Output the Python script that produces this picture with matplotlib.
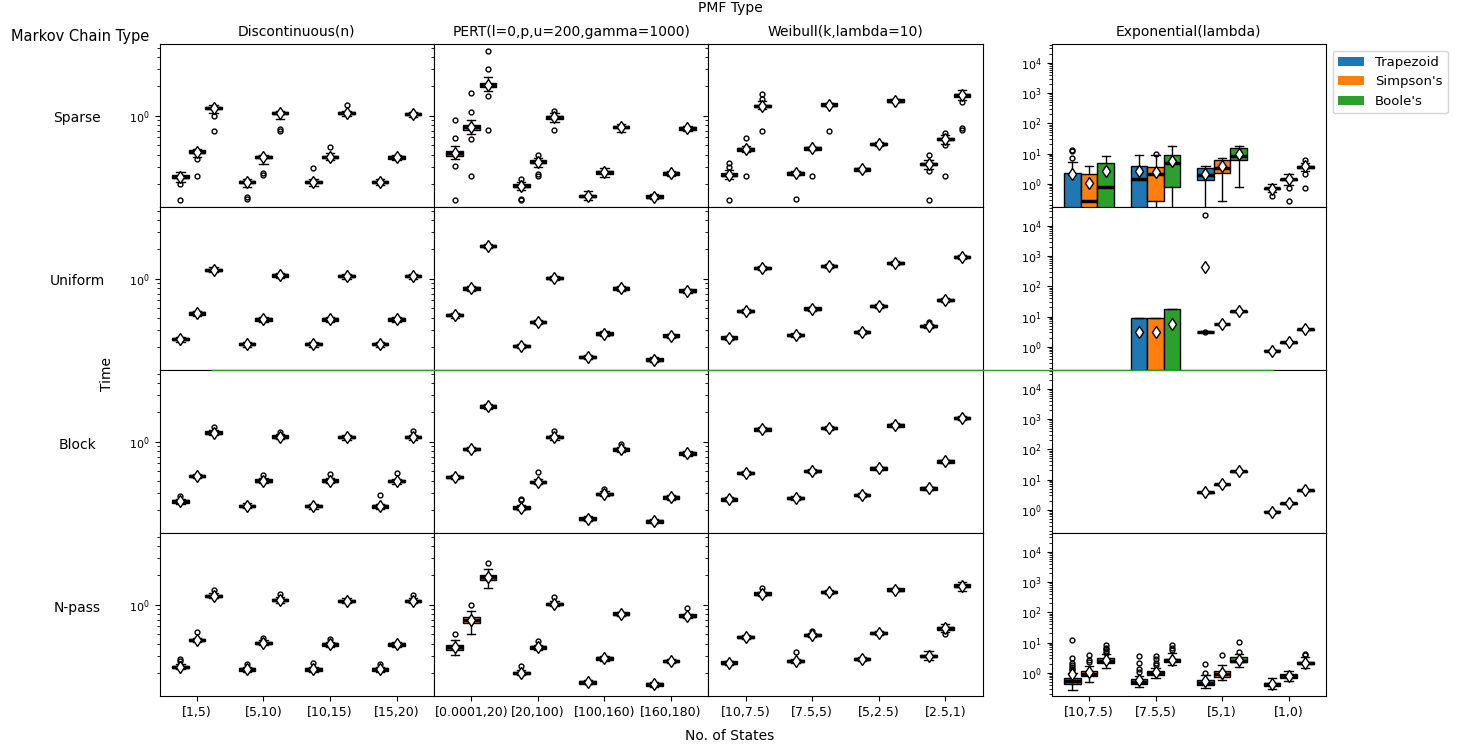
import matplotlib.pyplot as plt
from matplotlib.lines import Line2D
from matplotlib.patches import Patch

chain_types = ['Sparse', 'Uniform', 'Block', 'N-pass']
pmf_types = ['Discontinuous(n)', 'PERT(l=0,p,u=200,gamma=1000)',
             'Weibull(k,lambda=10)', 'Exponential(lambda)']
methods = ["Trapezoid", "Simpson's", "Boole's"]
colors = ['#1f77b4', '#ff7f0e', '#2ca02c']
state_bins = [['[1,5)', '[5,10)', '[10,15)', '[15,20)'],
              ['[0.0001,20)', '[20,100)', '[100,160)', '[160,180)'],
              ['[10,7.5)', '[7.5,5)', '[5,2.5)', '[2.5,1)'],
              ['[10,7.5)', '[7.5,5)', '[5,1)', '[1,0)']]

# box summaries: (whislo, q1, median, q3, whishi)
# 12 boxes per panel, bin by bin, each bin Trapezoid / Simpson's / Boole's
disc_sparse = [
    (0.21, 0.229, 0.236, 0.244, 0.262), (0.38, 0.415, 0.427, 0.44, 0.46), (1.07, 1.16, 1.2, 1.24, 1.3),
    (0.184, 0.204, 0.21, 0.216, 0.222), (0.318, 0.368, 0.379, 0.39, 0.40), (0.92, 1.03, 1.065, 1.09, 1.12),
    (0.19, 0.204, 0.21, 0.216, 0.225), (0.35, 0.368, 0.379, 0.39, 0.41), (1.0, 1.04, 1.065, 1.09, 1.12),
    (0.195, 0.204, 0.21, 0.216, 0.225), (0.35, 0.362, 0.373, 0.384, 0.395), (0.98, 1.01, 1.04, 1.07, 1.1)]
disc_sparse_out = {0: [0.198, 0.138], 1: [0.36, 0.24], 2: [1.0, 0.70], 3: [0.148, 0.139],
                   4: [0.26, 0.245], 5: [0.735, 0.70], 6: [0.292], 7: [0.476], 8: [1.3]}
disc_uniform = [
    (0.225, 0.233, 0.24, 0.247, 0.255), (0.415, 0.428, 0.44, 0.452, 0.465), (1.16, 1.2, 1.23, 1.26, 1.31),
    (0.2, 0.207, 0.213, 0.219, 0.226), (0.36, 0.371, 0.382, 0.393, 0.405), (1.02, 1.05, 1.08, 1.11, 1.14),
    (0.2, 0.207, 0.213, 0.219, 0.226), (0.36, 0.371, 0.382, 0.393, 0.405), (1.0, 1.035, 1.065, 1.095, 1.13),
    (0.2, 0.207, 0.213, 0.219, 0.226), (0.36, 0.371, 0.382, 0.393, 0.405), (1.0, 1.035, 1.065, 1.095, 1.13)]
disc_uniform_out = {}
disc_block = [
    (0.23, 0.237, 0.244, 0.251, 0.26), (0.42, 0.431, 0.444, 0.457, 0.47), (1.17, 1.2, 1.24, 1.28, 1.33),
    (0.207, 0.213, 0.22, 0.227, 0.233), (0.375, 0.386, 0.398, 0.41, 0.42), (1.06, 1.09, 1.125, 1.16, 1.19),
    (0.206, 0.212, 0.219, 0.226, 0.232), (0.375, 0.386, 0.398, 0.41, 0.42), (1.05, 1.08, 1.11, 1.14, 1.18),
    (0.205, 0.21, 0.217, 0.224, 0.23), (0.372, 0.383, 0.395, 0.407, 0.418), (1.05, 1.08, 1.11, 1.14, 1.18)]
disc_block_out = {0: [0.279], 2: [1.43], 4: [0.455], 5: [1.27], 7: [0.466],
                  9: [0.283], 10: [0.48], 11: [1.29]}
disc_npass = [
    (0.218, 0.224, 0.231, 0.238, 0.245), (0.41, 0.421, 0.434, 0.447, 0.46), (1.16, 1.19, 1.23, 1.27, 1.31),
    (0.205, 0.21, 0.217, 0.224, 0.23), (0.385, 0.395, 0.407, 0.419, 0.43), (1.05, 1.08, 1.117, 1.15, 1.19),
    (0.205, 0.21, 0.217, 0.224, 0.23), (0.37, 0.379, 0.391, 0.403, 0.415), (1.04, 1.07, 1.1, 1.13, 1.17),
    (0.205, 0.21, 0.217, 0.224, 0.23), (0.37, 0.379, 0.391, 0.403, 0.415), (1.03, 1.06, 1.09, 1.12, 1.16)]
disc_npass_out = {0: [0.265, 0.277], 1: [0.52], 2: [1.42], 3: [0.245], 4: [0.458], 5: [1.28],
                  6: [0.25], 7: [0.45], 9: [0.245], 11: [1.26]}

pert_sparse = [
    (0.36, 0.39, 0.41, 0.43, 0.488), (0.65, 0.72, 0.76, 0.80, 0.90), (1.8, 1.95, 2.05, 2.15, 2.48),
    (0.172, 0.185, 0.191, 0.197, 0.21), (0.30, 0.326, 0.337, 0.348, 0.372), (0.87, 0.93, 0.96, 0.99, 1.06),
    (0.138, 0.145, 0.15, 0.155, 0.168), (0.236, 0.254, 0.262, 0.27, 0.29), (0.685, 0.74, 0.76, 0.78, 0.83),
    (0.14, 0.144, 0.148, 0.152, 0.158), (0.24, 0.249, 0.256, 0.264, 0.272), (0.7, 0.72, 0.74, 0.76, 0.78)]
pert_sparse_out = {0: [0.594, 0.90, 0.304, 0.138], 1: [1.1, 1.71, 0.576, 0.24],
                   2: [2.99, 4.58, 1.6, 0.71], 3: [0.225, 0.14, 0.137], 4: [0.40, 0.25, 0.24],
                   5: [1.13, 0.71]}
pert_uniform = [
    (0.40, 0.41, 0.423, 0.436, 0.445), (0.755, 0.772, 0.796, 0.82, 0.84), (2.06, 2.1, 2.17, 2.24, 2.28),
    (0.193, 0.197, 0.203, 0.209, 0.213), (0.343, 0.35, 0.361, 0.372, 0.38), (0.97, 0.99, 1.02, 1.05, 1.07),
    (0.15, 0.153, 0.158, 0.163, 0.166), (0.26, 0.266, 0.274, 0.282, 0.288), (0.756, 0.772, 0.796, 0.82, 0.836),
    (0.14, 0.144, 0.148, 0.152, 0.156), (0.247, 0.252, 0.26, 0.268, 0.273), (0.715, 0.73, 0.753, 0.776, 0.79)]
pert_uniform_out = {}
pert_block = [
    (0.415, 0.424, 0.437, 0.45, 0.46), (0.805, 0.82, 0.847, 0.872, 0.89), (2.19, 2.24, 2.31, 2.38, 2.43),
    (0.2, 0.205, 0.211, 0.217, 0.225), (0.37, 0.376, 0.388, 0.4, 0.41), (1.05, 1.08, 1.11, 1.14, 1.18),
    (0.155, 0.158, 0.163, 0.168, 0.172), (0.275, 0.281, 0.29, 0.299, 0.31), (0.79, 0.81, 0.834, 0.86, 0.89),
    (0.145, 0.148, 0.153, 0.158, 0.161), (0.255, 0.26, 0.268, 0.276, 0.282), (0.72, 0.737, 0.76, 0.783, 0.8)]
pert_block_out = {3: [0.258, 0.25], 4: [0.484], 5: [1.29], 7: [0.326], 8: [0.95]}
pert_npass = [
    (0.305, 0.345, 0.365, 0.385, 0.435), (0.506, 0.655, 0.695, 0.74, 0.87), (1.5, 1.8, 1.91, 2.01, 2.3),
    (0.19, 0.194, 0.2, 0.206, 0.212), (0.347, 0.354, 0.365, 0.376, 0.385), (0.97, 0.99, 1.02, 1.05, 1.08),
    (0.152, 0.155, 0.16, 0.165, 0.168), (0.267, 0.273, 0.281, 0.289, 0.295), (0.77, 0.786, 0.81, 0.834, 0.85),
    (0.144, 0.147, 0.152, 0.157, 0.16), (0.253, 0.258, 0.266, 0.274, 0.279), (0.73, 0.748, 0.771, 0.794, 0.81)]
pert_npass_out = {0: [0.506], 1: [1.0], 2: [2.68], 3: [0.234], 4: [0.427], 5: [1.21], 11: [0.917]}

weib_sparse = [
    (0.225, 0.24, 0.248, 0.256, 0.28), (0.42, 0.437, 0.451, 0.465, 0.49), (1.18, 1.22, 1.26, 1.3, 1.40),
    (0.245, 0.249, 0.256, 0.264, 0.268), (0.44, 0.447, 0.461, 0.475, 0.48), (1.25, 1.26, 1.3, 1.34, 1.36),
    (0.27, 0.273, 0.281, 0.289, 0.294), (0.49, 0.497, 0.512, 0.527, 0.535), (1.37, 1.39, 1.43, 1.47, 1.5),
    (0.285, 0.31, 0.319, 0.328, 0.35), (0.51, 0.565, 0.58, 0.595, 0.64), (1.45, 1.57, 1.62, 1.67, 1.84)]
weib_sparse_out = {0: [0.33, 0.30, 0.138], 1: [0.594, 0.24], 2: [1.67, 1.50, 0.70], 3: [0.14],
                   4: [0.24], 5: [0.70], 9: [0.40, 0.268, 0.138], 10: [0.66, 0.495, 0.24],
                   11: [1.38, 0.74, 0.71]}
weib_uniform = [
    (0.237, 0.242, 0.249, 0.256, 0.261), (0.443, 0.451, 0.465, 0.479, 0.487), (1.23, 1.25, 1.29, 1.33, 1.35),
    (0.252, 0.256, 0.264, 0.272, 0.277), (0.469, 0.477, 0.492, 0.507, 0.515), (1.29, 1.31, 1.35, 1.39, 1.41),
    (0.27, 0.275, 0.283, 0.291, 0.296), (0.5, 0.508, 0.524, 0.54, 0.548), (1.39, 1.42, 1.46, 1.5, 1.53),
    (0.314, 0.319, 0.329, 0.339, 0.344), (0.576, 0.586, 0.604, 0.622, 0.632), (1.59, 1.62, 1.67, 1.72, 1.75)]
weib_uniform_out = {9: [0.36]}
weib_block = [
    (0.244, 0.248, 0.256, 0.264, 0.268), (0.458, 0.466, 0.48, 0.494, 0.502), (1.28, 1.3, 1.34, 1.38, 1.4),
    (0.254, 0.258, 0.266, 0.274, 0.279), (0.477, 0.485, 0.5, 0.515, 0.523), (1.32, 1.34, 1.38, 1.42, 1.44),
    (0.27, 0.275, 0.283, 0.291, 0.296), (0.508, 0.516, 0.532, 0.548, 0.556), (1.4, 1.43, 1.47, 1.51, 1.54),
    (0.317, 0.322, 0.332, 0.342, 0.347), (0.6, 0.609, 0.628, 0.647, 0.656), (1.66, 1.69, 1.74, 1.79, 1.82)]
weib_block_out = {}
weib_npass = [
    (0.242, 0.246, 0.254, 0.262, 0.266), (0.448, 0.455, 0.469, 0.483, 0.49), (1.24, 1.26, 1.3, 1.34, 1.36),
    (0.252, 0.256, 0.264, 0.272, 0.277), (0.466, 0.473, 0.488, 0.503, 0.51), (1.29, 1.31, 1.35, 1.39, 1.41),
    (0.263, 0.268, 0.276, 0.284, 0.289), (0.492, 0.5, 0.515, 0.53, 0.538), (1.37, 1.39, 1.43, 1.47, 1.5),
    (0.27, 0.29, 0.299, 0.308, 0.334), (0.53, 0.555, 0.571, 0.587, 0.628), (1.38, 1.52, 1.57, 1.62, 1.70)]
weib_npass_out = {2: [1.5], 3: [0.329], 4: [0.54], 10: [0.496]}

# exponential panel: wide boxes, means read separately (None = no box drawn)
expo_sparse = [
    (0.01, 0.02, 0.1, 2.3, 5.2), (0.01, 0.05, 0.26, 2.1, 3.9), (0.01, 0.05, 0.76, 4.9, 8.4),
    (0.01, 0.05, 1.39, 4.0, 8.8), (0.01, 0.26, 2.03, 3.5, 8.8), (0.01, 0.76, 4.9, 8.6, 17.5),
    (0.01, 1.29, 1.98, 3.37, 3.9), (0.26, 2.25, 3.37, 5.9, 7.2), (0.76, 6.0, 8.4, 15.4, 17.5),
    (0.55, 0.66, 0.70, 0.74, 1.0), (0.93, 1.3, 1.39, 1.48, 2.03), (2.6, 3.4, 3.63, 3.9, 4.9)]
expo_sparse_mean = [2.03, 1.08, 2.55, 2.6, 2.36, 5.45, 2.14, 3.8, 9.75, 0.68, 1.39, 4.0]
expo_sparse_out = {0: [7.0, 12.5, 13.5], 4: [9.3], 9: [0.38], 10: [0.74, 0.26], 11: [5.9, 2.1, 0.74]}
expo_uniform = [
    None, None, None,
    (0.001, 0.001, 0.001, 9.0, 9.0), (0.001, 0.001, 0.001, 8.75, 8.75), (0.001, 0.001, 0.001, 17.3, 17.3),
    (3.0, 3.05, 3.11, 3.17, 3.25), (5.3, 5.45, 5.56, 5.67, 5.8), (14.2, 14.6, 14.9, 15.2, 15.6),
    (0.7, 0.72, 0.74, 0.76, 0.78), (1.32, 1.35, 1.39, 1.43, 1.46), (3.6, 3.7, 3.8, 3.9, 4.0)]
expo_uniform_mean = [None, None, None, 2.96, 2.96, 5.85, 450, 5.56, 14.9, 0.74, 1.39, 3.8]
expo_uniform_out = {6: [22400, 3.0]}
expo_block = [
    None, None, None, None, None, None,
    (3.6, 3.68, 3.78, 3.88, 3.95), (6.6, 6.75, 6.9, 7.05, 7.2), (17.8, 18.3, 18.7, 19.1, 19.6),
    (0.8, 0.82, 0.85, 0.88, 0.9), (1.56, 1.6, 1.64, 1.68, 1.72), (4.2, 4.3, 4.4, 4.5, 4.6)]
expo_block_mean = [None, None, None, None, None, None, 3.78, 6.9, 18.7, 0.85, 1.64, 4.4]
expo_block_out = {}
expo_npass = [
    (0.264, 0.41, 0.53, 0.68, 1.0), (0.5, 0.77, 0.93, 1.14, 1.67), (1.47, 2.1, 2.45, 3.0, 4.1),
    (0.34, 0.43, 0.5, 0.6, 0.77), (0.65, 0.85, 0.95, 1.14, 1.47), (1.8, 2.3, 2.57, 2.85, 4.6),
    (0.32, 0.4, 0.46, 0.56, 0.84), (0.58, 0.74, 0.88, 1.14, 1.8), (1.58, 2.2, 2.45, 3.2, 4.3),
    (0.28, 0.36, 0.41, 0.46, 0.65), (0.53, 0.68, 0.77, 0.88, 1.14), (1.4, 1.9, 2.05, 2.35, 3.4)]
expo_npass_mean = [0.88, 1.05, 2.6, 0.59, 1.1, 2.6, 0.52, 1.0, 2.65, 0.41, 0.8, 2.1]
expo_npass_out = {0: [1.2, 1.35, 1.5, 1.75, 2.15, 3.16, 12.0], 1: [2.2, 2.6, 3.9],
                  2: [4.6, 5.3, 6.0, 6.8, 8.4], 3: [1.08, 1.3, 2.15, 3.6], 4: [1.8, 2.15, 2.9, 3.6],
                  5: [5.5, 6.8, 8.4], 6: [1.0, 2.0], 7: [3.9], 8: [4.9, 10.5], 11: [3.9, 4.1]}

panels = [
    [(disc_sparse, disc_sparse_out, None), (pert_sparse, pert_sparse_out, None),
     (weib_sparse, weib_sparse_out, None), (expo_sparse, expo_sparse_out, expo_sparse_mean)],
    [(disc_uniform, disc_uniform_out, None), (pert_uniform, pert_uniform_out, None),
     (weib_uniform, weib_uniform_out, None), (expo_uniform, expo_uniform_out, expo_uniform_mean)],
    [(disc_block, disc_block_out, None), (pert_block, pert_block_out, None),
     (weib_block, weib_block_out, None), (expo_block, expo_block_out, expo_block_mean)],
    [(disc_npass, disc_npass_out, None), (pert_npass, pert_npass_out, None),
     (weib_npass, weib_npass_out, None), (expo_npass, expo_npass_out, expo_npass_mean)],
]


def draw_panel(ax, boxes, outliers, means):
    stats, pos, cols = [], [], []
    for i, b in enumerate(boxes):
        if b is None:
            continue
        lo, q1, med, q3, hi = b
        mean = med if means is None else means[i]
        stats.append(dict(whislo=lo, q1=q1, med=med, q3=q3, whishi=hi,
                          mean=mean, fliers=outliers.get(i, [])))
        pos.append(i // 3 + (i % 3 - 1) * 0.25)
        cols.append(colors[i % 3])
    bp = ax.bxp(stats, positions=pos, widths=0.25, patch_artist=True,
                showmeans=True, manage_ticks=False,
                boxprops=dict(edgecolor='black', linewidth=1),
                medianprops=dict(color='black', linewidth=2.5),
                whiskerprops=dict(color='black', linewidth=1),
                capprops=dict(color='black', linewidth=1),
                meanprops=dict(marker='d', markerfacecolor='white',
                               markeredgecolor='black', markersize=6),
                flierprops=dict(marker='o', markerfacecolor='none',
                                markeredgecolor='black', markersize=3.5))
    for patch, c in zip(bp['boxes'], cols):
        patch.set_facecolor(c)


fig = plt.figure(figsize=(14.6, 7.48), dpi=100)
gs = fig.add_gridspec(4, 5, width_ratios=[1, 1, 1, 0.2515, 1],
                      left=0.1093, right=0.9082, top=0.9412, bottom=0.0695,
                      wspace=0, hspace=0)

axes = [[None] * 4 for _ in range(4)]
for r in range(4):
    for c in range(4):
        share = None
        if c < 3 and (r, c) != (0, 0):
            share = axes[0][0]
        if c == 3 and r > 0:
            share = axes[0][3]
        ax = fig.add_subplot(gs[r, c if c < 3 else 4], sharey=share)
        axes[r][c] = ax
        ax.set_yscale('log')
        boxes, outliers, means = panels[r][c]
        draw_panel(ax, boxes, outliers, means)
        ax.set_xlim(-0.5625, 3.5625)
        ax.set_xticks(range(4))
        ax.tick_params(axis='y', labelsize=8)
        ax.tick_params(axis='x', labelsize=9)
        if r < 3:
            ax.tick_params(axis='x', bottom=False, labelbottom=False)
        else:
            ax.set_xticklabels(state_bins[c])
        if c in (1, 2):
            ax.tick_params(axis='y', labelleft=False)
        if r == 0:
            ax.set_title(pmf_types[c], fontsize=10)
        if c == 0:
            ax.set_ylabel(chain_types[r], rotation=0, fontsize=10, ha='center', va='bottom')
            ax.yaxis.set_label_coords(-0.30, 0.5)

axes[0][0].set_ylim(0.1158, 5.44)
axes[0][3].set_ylim(0.17, 4.2e4)

# stray green segment along the Uniform/Block border, as in the original
fig.add_artist(Line2D([-3.062, 0.807], [0, 0], transform=axes[1][3].transAxes,
                      color=colors[2], linewidth=1))

handles = [Patch(facecolor=c, label=m) for c, m in zip(colors, methods)]
axes[0][3].legend(handles=handles, loc='upper left', bbox_to_anchor=(1.0, 1.0), fontsize=9.5)

fig.text(0.5, 1 - 8 / 748, 'PMF Type', ha='center', va='center', fontsize=10)
fig.text(80 / 1460, 1 - 37 / 748, 'Markov Chain Type', ha='center', va='center', fontsize=10.5)
fig.text(107 / 1460, 0.5, 'Time', rotation=90, ha='center', va='center', fontsize=10)
fig.text(0.5, 12 / 748, 'No. of States', ha='center', va='center', fontsize=10)

fig.savefig('out.png', dpi=100)
